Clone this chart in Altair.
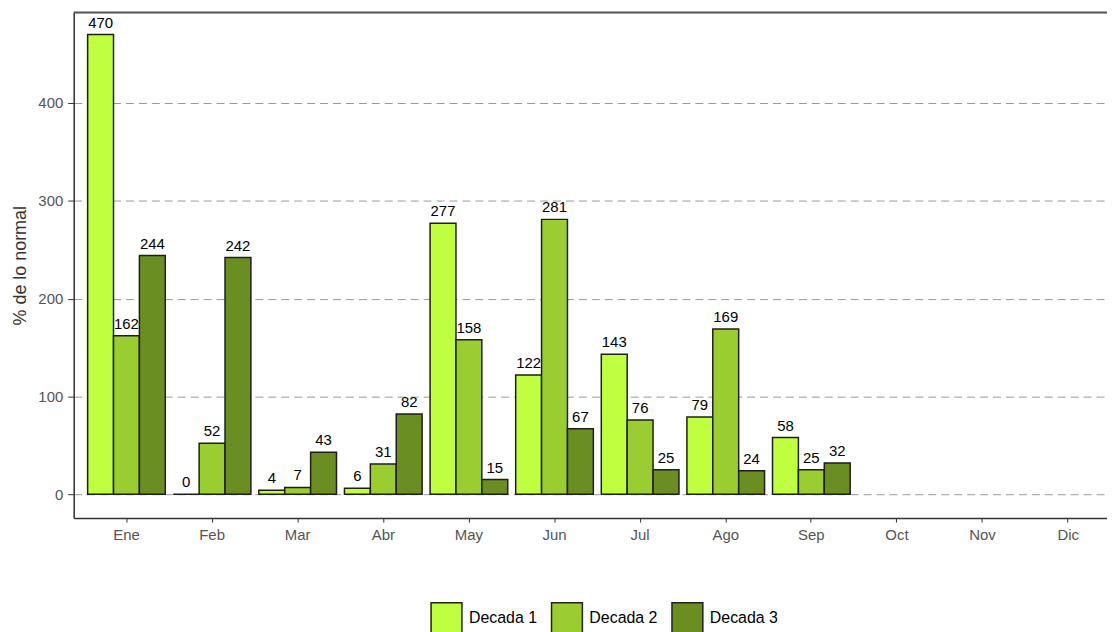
import altair as alt
import pandas as pd

months = ["Ene", "Feb", "Mar", "Abr", "May", "Jun", "Jul", "Ago", "Sep", "Oct", "Nov", "Dic"]
data_months = ["Ene", "Feb", "Mar", "Abr", "May", "Jun", "Jul", "Ago", "Sep"]
decadas = ["Decada 1", "Decada 2", "Decada 3"]
decada1 = [470, 0, 4, 6, 277, 122, 143, 79, 58]
decada2 = [162, 52, 7, 31, 158, 281, 76, 169, 25]
decada3 = [244, 242, 43, 82, 15, 67, 25, 24, 32]
colors = ["#bfff3f", "#9acd32", "#6b8e23"]

rows = []
for name, vals in zip(decadas, [decada1, decada2, decada3]):
    for m, v in zip(data_months, vals):
        rows.append({"mes": m, "decada": name, "valor": v})
df = pd.DataFrame(rows)

FONT = "Liberation Sans"
W, H = 1038, 508

xenc = alt.X(
    "mes:N",
    sort=months,
    scale=alt.Scale(domain=months, paddingInner=0.093, paddingOuter=0.0814, align=1),
    axis=alt.Axis(title=None, labelAngle=0, tickSize=4, labelPadding=6, domainColor="#333",
                  domainWidth=1.5, tickColor="#333", labelColor="#555", labelFont=FONT,
                  labelFontSize=15, grid=False),
)
xoff = alt.XOffset("decada:N", sort=decadas, scale=alt.Scale(paddingInner=0, paddingOuter=0))
yenc = alt.Y(
    "valor:Q",
    scale=alt.Scale(domain=[-24.4, 492.6], nice=False, zero=False),
    axis=alt.Axis(values=[0, 100, 200, 300, 400], grid=True, gridDash=[8, 5], gridColor="#999",
                  tickColor="#333", tickSize=6, labelPadding=5, domainColor="#333", domainWidth=1.5,
                  labelColor="#555", labelFont=FONT, labelFontSize=15,
                  title="% de lo normal", titleFont=FONT, titleFontSize=18, titleFontWeight="normal",
                  titleColor="#333", titleX=-53, titleY=254, titleBaseline="middle", titleAlign="center"),
)

bars = alt.Chart(df).mark_bar(stroke="#1e1e1e", strokeWidth=1.5).encode(
    x=xenc,
    xOffset=xoff,
    y=yenc,
    y2=alt.datum(0),
    color=alt.Color(
        "decada:N",
        scale=alt.Scale(domain=decadas, range=colors),
        legend=alt.Legend(orient="none", legendX=358, legendY=592, direction="horizontal", title=None,
                          symbolType="square", symbolSize=961, symbolStrokeColor="#222",
                          symbolStrokeWidth=1.5, symbolOpacity=1, labelFontSize=16, labelFont=FONT,
                          labelColor="black", labelOffset=6, columnPadding=11, padding=0),
    ),
)

labels = alt.Chart(df).mark_text(baseline="bottom", dy=-4, fontSize=15, font=FONT, color="black").encode(
    x=xenc,
    xOffset=xoff,
    y=yenc,
    text=alt.Text("valor:Q"),
)

top = alt.Chart(pd.DataFrame({"a": [0]})).mark_rule(color="#555", strokeWidth=2).encode(
    x=alt.value(0), x2=alt.value(W), y=alt.value(0)
)

chart = alt.layer(bars, labels, top).properties(
    width=W, height=H,
    autosize=alt.AutoSizeParams(type="none"),
    padding={"left": 66, "top": 3, "right": 0, "bottom": 113},
).configure_view(fill="#f0ffff", stroke=None).configure(background="white")

chart.save("out.html", embed_options={"renderer": "svg", "actions": False})
